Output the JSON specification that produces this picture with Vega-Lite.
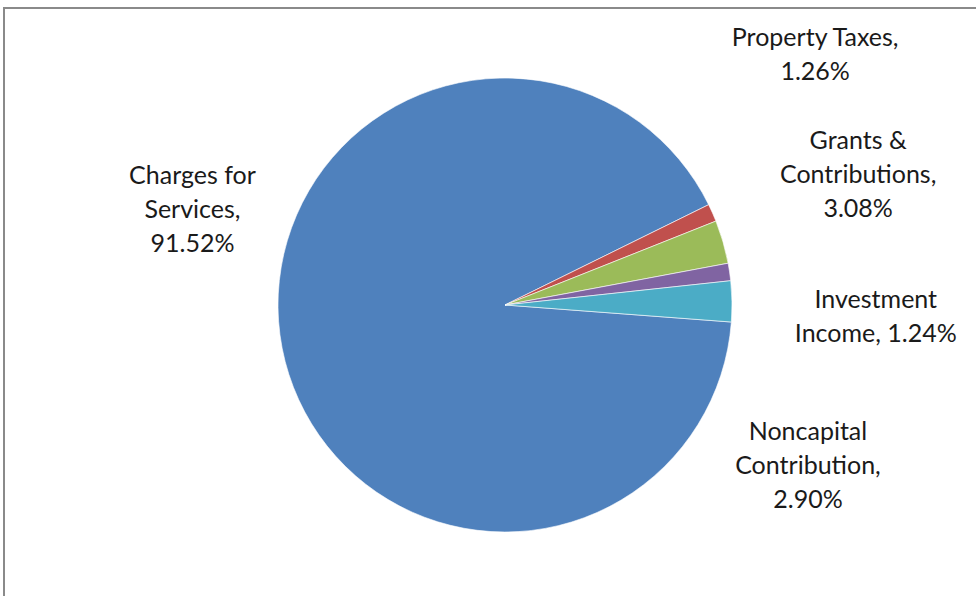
{
  "$schema": "https://vega.github.io/schema/vega-lite/v6.json",
  "width": 1002,
  "height": 594,
  "autosize": {"type": "none"},
  "padding": {"left": 4, "top": 8, "right": 0, "bottom": 0},
  "background": "white",
  "view": {"stroke": "#8a8a8a", "strokeWidth": 2},
  "config": {"view": {"stroke": "#8a8a8a", "strokeWidth": 2}},
  "data": {
    "values": [
      {"category": "Charges for Services", "value": 91.52, "idx": 1, "label": "Charges for\nServices,\n91.52%"},
      {"category": "Property Taxes", "value": 1.26, "idx": 2, "label": "Property Taxes,\n1.26%"},
      {"category": "Grants & Contributions", "value": 3.08, "idx": 3, "label": "Grants &\nContributions,\n3.08%"},
      {"category": "Investment Income", "value": 1.24, "idx": 4, "label": "Investment\nIncome, 1.24%"},
      {"category": "Noncapital Contribution", "value": 2.90, "idx": 5, "label": "Noncapital\nContribution,\n2.90%"}
    ]
  },
  "encoding": {
    "theta": {"field": "value", "type": "quantitative", "stack": true, "scale": {"range": [1.646, 7.929]}},
    "order": {"field": "idx", "type": "quantitative"}
  },
  "layer": [
    {
      "mark": {"type": "arc", "outerRadius": 227, "stroke": "white", "strokeWidth": 0.6},
      "encoding": {
        "color": {
          "field": "category", "type": "nominal", "legend": null,
          "scale": {
            "domain": ["Charges for Services", "Property Taxes", "Grants & Contributions", "Investment Income", "Noncapital Contribution"],
            "range": ["#4F81BD", "#C0504D", "#9BBB59", "#8064A2", "#4BACC6"]
          }
        }
      }
    },
    {
      "mark": {"type": "text", "radius": 300, "dx": -18, "dy": -186, "font": "Lato", "fontSize": 25, "lineHeight": 34, "lineBreak": "\n", "align": "center", "baseline": "middle", "color": "#1a1a1a"},
      "encoding": {"text": {"condition": {"test": "datum.category === 'Charges for Services'", "field": "label"}, "value": ""}}
    },
    {
      "mark": {"type": "text", "radius": 300, "dx": 36, "dy": -145, "font": "Lato", "fontSize": 25, "lineHeight": 34, "lineBreak": "\n", "align": "center", "baseline": "middle", "color": "#1a1a1a"},
      "encoding": {"text": {"condition": {"test": "datum.category === 'Property Taxes'", "field": "label"}, "value": ""}}
    },
    {
      "mark": {"type": "text", "radius": 300, "dx": 65, "dy": -81, "font": "Lato", "fontSize": 25, "lineHeight": 34, "lineBreak": "\n", "align": "center", "baseline": "middle", "color": "#1a1a1a"},
      "encoding": {"text": {"condition": {"test": "datum.category === 'Grants & Contributions'", "field": "label"}, "value": ""}}
    },
    {
      "mark": {"type": "text", "radius": 300, "dx": 74, "dy": 39, "font": "Lato", "fontSize": 25, "lineHeight": 34, "lineBreak": "\n", "align": "center", "baseline": "middle", "color": "#1a1a1a"},
      "encoding": {"text": {"condition": {"test": "datum.category === 'Investment Income'", "field": "label"}, "value": ""}}
    },
    {
      "mark": {"type": "text", "radius": 300, "dx": 3, "dy": 132, "font": "Lato", "fontSize": 25, "lineHeight": 34, "lineBreak": "\n", "align": "center", "baseline": "middle", "color": "#1a1a1a"},
      "encoding": {"text": {"condition": {"test": "datum.category === 'Noncapital Contribution'", "field": "label"}, "value": ""}}
    }
  ]
}
